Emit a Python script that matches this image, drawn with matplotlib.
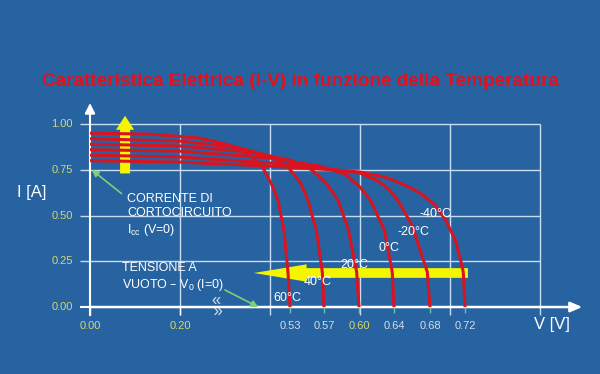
import numpy as np
import matplotlib
matplotlib.use("Agg")
import matplotlib.pyplot as plt
from matplotlib.patches import FancyArrowPatch

plt.rcParams['font.family'] = ['Liberation Sans', 'DejaVu Sans']

# ---- data (V in volt, I in ampere) ----
temps = ["60°C", "40°C", "20°C", "0°C", "-20°C", "-40°C"]

v_60 = [0.0, 0.133, 0.26, 0.35, 0.41, 0.449, 0.476, 0.494, 0.512, 0.524, 0.53]
i_60 = [0.95, 0.945, 0.923, 0.885, 0.831, 0.760, 0.667, 0.585, 0.421, 0.191, 0.0]

v_40 = [0.0, 0.20, 0.38, 0.47, 0.524, 0.542, 0.551, 0.561, 0.568, 0.57]
i_40 = [0.92, 0.907, 0.869, 0.825, 0.765, 0.683, 0.585, 0.421, 0.191, 0.0]

v_20 = [0.0, 0.20, 0.41, 0.53, 0.556, 0.573, 0.582, 0.591, 0.598, 0.60]
i_20 = [0.89, 0.880, 0.847, 0.803, 0.749, 0.667, 0.585, 0.421, 0.191, 0.0]

v_0 = [0.0, 0.20, 0.47, 0.565, 0.588, 0.601, 0.613, 0.629, 0.638, 0.64]
i_0 = [0.86, 0.852, 0.814, 0.770, 0.727, 0.656, 0.585, 0.421, 0.191, 0.0]

v_m20 = [0.0, 0.20, 0.47, 0.575, 0.601, 0.622, 0.635, 0.644, 0.66, 0.669, 0.677, 0.68]
i_m20 = [0.83, 0.820, 0.787, 0.754, 0.732, 0.689, 0.639, 0.585, 0.448, 0.311, 0.191, 0.0]

v_m40 = [0.0, 0.20, 0.47, 0.575, 0.601, 0.630, 0.652, 0.669, 0.686, 0.698, 0.709, 0.715, 0.718, 0.72]
i_m40 = [0.80, 0.792, 0.770, 0.751, 0.738, 0.710, 0.667, 0.623, 0.557, 0.475, 0.366, 0.257, 0.191, 0.0]

curves = [(v_60, i_60), (v_40, i_40), (v_20, i_20), (v_0, i_0), (v_m20, i_m20), (v_m40, i_m40)]

v_ticks = [0.00, 0.20, 0.53, 0.57, 0.60, 0.64, 0.68, 0.72]
v_tick_labels = ["0.00", "0.20", "0.53", "0.57", "0.60", "0.64", "0.68", "0.72"]
i_ticks = [0.00, 0.25, 0.50, 0.75, 1.00]
i_tick_labels = ["0.00", "0.25", "0.50", "0.75", "1.00"]

# broken V axis: piecewise linear position of each volt value
V_KNOTS = [-0.2, 0.0, 0.20, 0.53, 0.57, 0.60, 0.64, 0.68, 0.72, 0.90]
POS = [-1.0, 0.0, 1.0, 2.222, 2.6, 2.989, 3.378, 3.778, 4.167, 5.917]


def fwd(v):
    return np.interp(v, V_KNOTS, POS)


def inv(u):
    return np.interp(u, POS, V_KNOTS)


BG = '#2763A0'
GRID = '#C9DDF2'
RED = '#D81420'
YEL = '#F5F500'
TICKYEL = '#D6D66E'
PALE = '#D2DDEA'
GREEN = '#7ED07A'

fig = plt.figure(figsize=(6, 3.74), dpi=100, facecolor=BG)
ax = fig.add_axes([0, 0, 1, 1])
ax.set_xscale('function', functions=(fwd, inv))
ax.set_xlim(inv(-1.0), inv(5.667))
ax.set_ylim(-0.366, 1.678)
ax.axis('off')

# grid
grid_v = inv(np.array([1, 2, 3, 4, 5]))
ax.vlines(grid_v, -0.045, 1.0, color=GRID, lw=1.0, zorder=1)
ax.hlines(i_ticks[1:], inv(-0.11), grid_v[-1], color=GRID, lw=1.0, zorder=1)

# axes with arrows
ax.add_patch(FancyArrowPatch((0, -0.045), (0, 1.115), arrowstyle='-|>,head_length=0.6,head_width=0.3',
                             mutation_scale=10, color='white', lw=1.5, shrinkA=0, shrinkB=0, zorder=2))
ax.add_patch(FancyArrowPatch((0, 0), (inv(5.47), 0), arrowstyle='-|>,head_length=0.7,head_width=0.3',
                             mutation_scale=10, color='white', lw=1.8, shrinkA=0, shrinkB=0, zorder=2))
ax.hlines(0, inv(-0.11), 0, color='white', lw=1.5, zorder=2)

# tick marks below axis
ax.vlines(v_ticks[:2], -0.045, 0, color='white', lw=1.0, zorder=2)
ax.vlines(v_ticks[2:], -0.035, 0, color='#6FC2A8', lw=1.0, zorder=2)

# yellow arrows (drawn under the curves)
ax.add_patch(FancyArrowPatch((0.078, 0.73), (0.078, 1.045),
                             arrowstyle='simple,head_length=10,head_width=13,tail_width=7.2',
                             mutation_scale=1, color=YEL, lw=0, shrinkA=0, shrinkB=0, zorder=3))
ax.add_patch(FancyArrowPatch((inv(4.2), 0.186), (inv(1.82), 0.186),
                             arrowstyle='simple,head_length=38,head_width=12.5,tail_width=7',
                             mutation_scale=1, color=YEL, lw=0, shrinkA=0, shrinkB=0, zorder=3))

# I-V curves
for v, i in curves:
    ax.plot(v, i, color=RED, lw=2.2, solid_capstyle='butt', solid_joinstyle='round', zorder=4)

# green leader lines
ax.annotate('', xy=(0.004, 0.75), xytext=(0.07, 0.62),
            arrowprops=dict(arrowstyle='-|>,head_length=0.4,head_width=0.2', color=GREEN, lw=1.2,
                            shrinkA=0, shrinkB=0), zorder=5)
ax.annotate('', xy=(inv(1.87), 0.0), xytext=(inv(1.5), 0.093),
            arrowprops=dict(arrowstyle='-|>,head_length=0.4,head_width=0.2', color=GREEN, lw=1.2,
                            shrinkA=0, shrinkB=0), zorder=5)


def fx(px):
    return px / 600.0


def fy(py):
    return 1.0 - py / 374.0


# tick labels
for v, lab in zip(v_ticks, v_tick_labels):
    col = TICKYEL if lab in ("0.00", "0.20", "0.60") else PALE
    ax.text(v, -0.105, lab, color=col, fontsize=8, ha='center', va='center', zorder=6)
for i, lab in zip(i_ticks, i_tick_labels):
    ax.text(inv(-0.19), i, lab, color=TICKYEL, fontsize=8, ha='right', va='center', zorder=6)

# axis titles
fig.text(fx(32), fy(192), "I [A]", color='white', fontsize=12, ha='center', va='center')
fig.text(fx(552), fy(325), "V [V]", color='white', fontsize=12, ha='center', va='center')

# title
title = fig.text(fx(300), fy(81), "Caratteristica Elettrica (I-V) in funzione della Temperatura",
                 color='#E4101C', fontsize=14, fontweight='bold', ha='center', va='center',
                 family=['Liberation Sans Narrow', 'Liberation Sans'])
fig.canvas.draw()
w = title.get_window_extent().width
title.set_fontsize(14 * 520.0 / w)

# annotations
fig.text(fx(127), fy(193), "CORRENTE DI\nCORTOCIRCUITO\nI$_{\\mathregular{cc}}$ (V=0)", color='white',
         fontsize=9, ha='left', va='top', linespacing=1.25)
fig.text(fx(122), fy(262), "TENSIONE A\nVUOTO \u2013 V$_{\\mathregular{0}}$ (I=0)", color='white',
         fontsize=9, ha='left', va='top', linespacing=1.25)
fig.text(fx(216), fy(306), "\u00ab\n \u00bb", color=PALE, fontsize=12, ha='center', va='center',
         linespacing=0.7)

# temperature labels
temp_pos = [(287, 298), (318, 282), (354, 265), (389, 248), (413, 232), (436, 214)]
for lab, (px, py) in zip(temps, temp_pos):
    fig.text(fx(px), fy(py), lab, color='white', fontsize=9, ha='center', va='center')

fig.savefig("out.png", dpi=100, facecolor=BG)
